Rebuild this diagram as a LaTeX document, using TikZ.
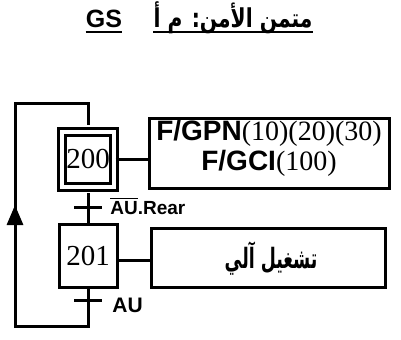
\documentclass[tikz,border=0pt]{standalone}
\usepackage{fontspec}
\usepackage{graphicx}
\setmainfont{Liberation Serif}
\setsansfont{Liberation Sans}
\newfontfamily\arabicfont[Script=Arabic]{DejaVu Sans}
\TeXXeTstate=1
\usetikzlibrary{positioning,arrows.meta}

\begin{document}
\begin{tikzpicture}[x=0.5pt,y=-0.5pt,
    etape/.style={draw, line width=1.5pt, fill=white, minimum width=29pt,
                  minimum height=31.5pt, inner sep=0pt,
                  font=\fontsize{14.5}{14.5}\selectfont},
    initiale/.style={etape, double, double distance=2pt,
                     minimum width=26pt, minimum height=27.5pt},
    action/.style={draw, line width=1.5pt, inner sep=0pt},
    trans/.style={inner sep=0pt, minimum width=13.5pt, minimum height=0pt},
    lien/.style={line width=1.5pt},
    lbl/.style={font=\sffamily\bfseries\fontsize{10.5}{10.5}\selectfont,
                anchor=west, inner sep=0pt},
    fl/.style={-{Triangle[length=10pt,width=8pt]}, line width=1.5pt}
  ]
  \useasboundingbox (0,0) rectangle (401,339);

  % Titre
  \node[anchor=base, inner sep=0pt, font=\sffamily\bfseries\fontsize{12.5}{12.5}\selectfont]
    (gs) at (104,27) {GS};
  \node[anchor=base, inner sep=0pt, font=\arabicfont\bfseries\fontsize{13}{13}\selectfont]
    (titre) at (233,27) {\scalebox{0.78}[1]{\beginR متمن الأمن: م أ\endR}};
  \draw[line width=1pt] ([yshift=-2.5pt]gs.base west) -- ([yshift=-2.5pt]gs.base east);
  \draw[line width=1pt] ([yshift=-2.5pt]titre.base west) -- ([yshift=-2.5pt]titre.base east);

  % Etapes
  \node[initiale] (s200) at (88,159) {200};
  \node[etape] (s201) at (88,256) {201};

  % Actions
  \node[action, minimum width=120pt, minimum height=35pt] (a1) at (269.5,153.5) {};
  \node[align=center, inner sep=0pt, font=\fontsize{14}{15}\selectfont] (t_a1) at (269,148)
    {{\sffamily\bfseries F/GPN}(10)(20)(30)\\{\sffamily\bfseries F/GCI}(100)};
  \node[action, minimum width=117pt, minimum height=29.5pt] (a2) at (268.5,258) {};
  \node[inner sep=0pt, font=\arabicfont\bfseries\fontsize{14}{14}\selectfont] (t_a2) at (271,259)
    {\scalebox{0.62}[1]{\beginR تشغيل آلي\endR}};
  \draw[lien] (s200.east) -- (s200.east -| a1.west);
  \draw[lien] ([yshift=-2pt]s201.east) -- ([yshift=-2pt]s201.east -| a2.west);

  % Liaisons et transitions
  \coordinate (bd) at (88,326);
  \coordinate (bg) at (15,326);
  \coordinate (hg) at (15,103);
  \coordinate (hd) at (88,103);
  \coordinate (mg) at (15,205);
  \draw[lien, shorten <=2.5pt] (s200.south) -- (s201.north);
  \draw[lien, shorten >=2.5pt] (s201.south) -- (bd) -- (bg) -- (hg) -- (hd) -- (s200.north);
  \draw[fl] (bg) -- (mg);

  \node[trans] (t1) at (88,207) {};
  \node[trans] (t2) at (88,300) {};
  \draw[lien] (t1.west) -- (t1.east);
  \draw[lien] (t2.west) -- (t2.east);
  \node[lbl, font=\sffamily\bfseries\fontsize{9.5}{9.5}\selectfont] (r1) at (110,206)
    {\ensuremath{\overline{\mbox{AU}}}.Rear};
  \node[lbl] (r2) at (112,305) {AU};
\end{tikzpicture}
\end{document}
